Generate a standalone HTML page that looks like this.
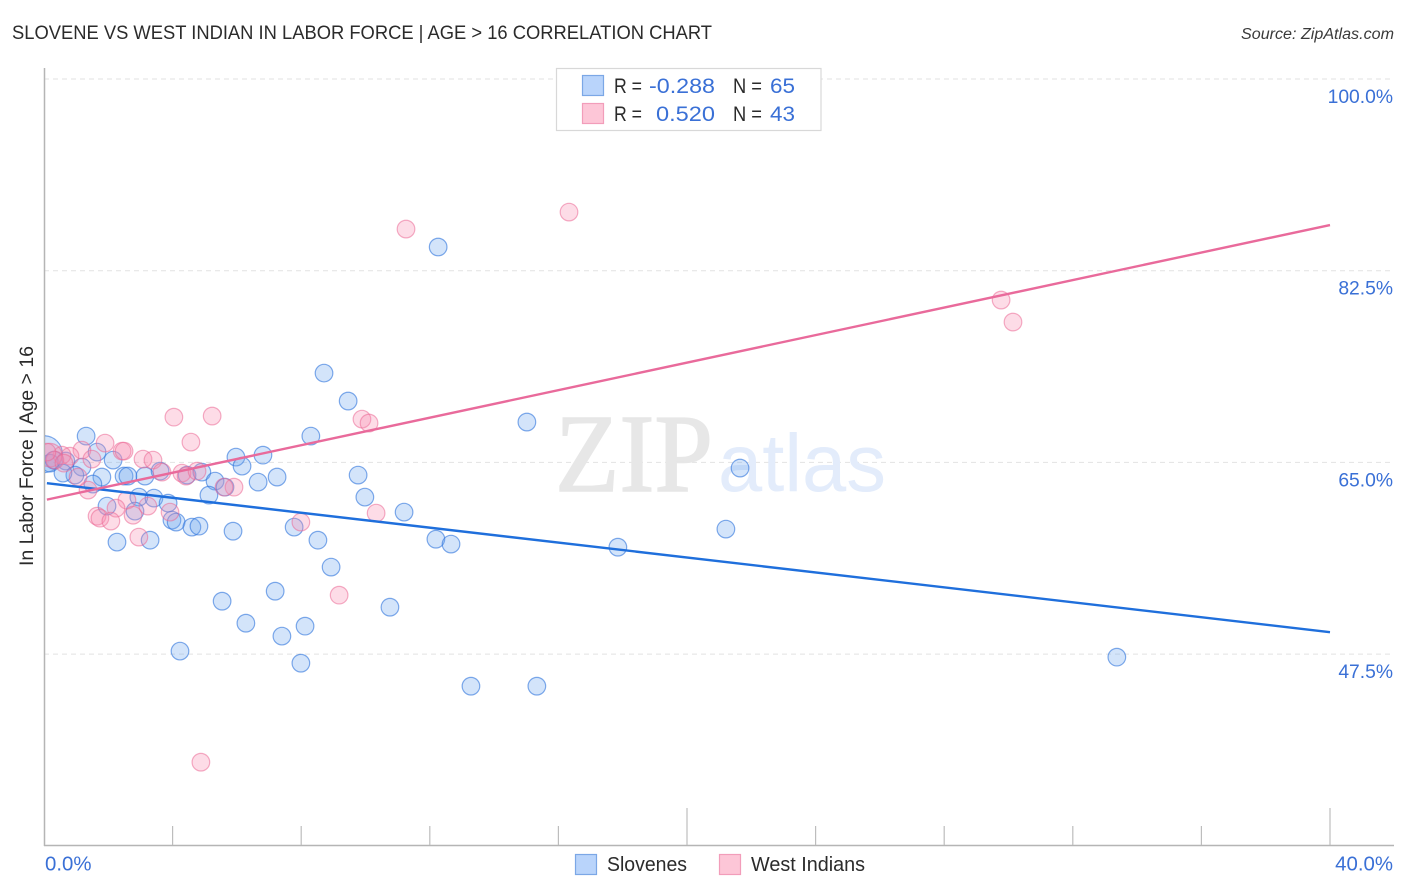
<!DOCTYPE html>
<html lang="en">
<head>
<meta charset="utf-8">
<title>Slovene vs West Indian in Labor Force | Age > 16 Correlation Chart</title>
<style>
html,body{margin:0;padding:0;background:#fff;}
svg{display:block;font-family:"Liberation Sans",sans-serif;}
</style>
</head>
<body>
<svg id="chart" xmlns="http://www.w3.org/2000/svg" width="1406" height="892" viewBox="0 0 1406 892">
  <defs><clipPath id="plot-clip"><rect x="45" y="60" width="1349" height="785"/></clipPath></defs>
  <rect x="0" y="0" width="1406" height="892" fill="#fff"/>
  <text x="12" y="39" font-size="19.5" fill="#2b2b2b" textLength="700" lengthAdjust="spacingAndGlyphs">SLOVENE VS WEST INDIAN IN LABOR FORCE | AGE &gt; 16 CORRELATION CHART</text>
  <text x="1394" y="39" font-size="15.5" font-style="italic" fill="#3a3a3a" text-anchor="end" textLength="153" lengthAdjust="spacingAndGlyphs">Source: ZipAtlas.com</text>
  <g id="grid"></g>
  <g>
    <text x="555" y="491" style="font-family:'Liberation Serif',serif" font-size="111" fill="#e7e7e7" stroke="#e7e7e7" stroke-width="1.5" textLength="158" lengthAdjust="spacingAndGlyphs">ZIP</text>
    <text x="718" y="491" style="font-family:'Liberation Sans',sans-serif" font-size="82" fill="#e3ecfb" textLength="168" lengthAdjust="spacingAndGlyphs">atlas</text>
  </g>
  <g id="axes"></g>
  <g id="points" clip-path="url(#plot-clip)"></g>
  <g id="trends"></g>
  <g id="tick-labels"></g>
  <text transform="translate(33,456) rotate(-90)" font-size="19.5" fill="#2b2b2b" text-anchor="middle" textLength="220" lengthAdjust="spacingAndGlyphs">In Labor Force | Age &gt; 16</text>

  <g>
    <rect x="556.5" y="68.5" width="264.5" height="62" fill="#fff" stroke="#d8d8d8" stroke-width="1.2"/>
    <rect x="582.5" y="75.5" width="21" height="20" fill="#b9d4fb" stroke="#7ba7e6" stroke-width="1.2"/>
    <rect x="582.5" y="103.5" width="21" height="20" fill="#fdc6d7" stroke="#f29dba" stroke-width="1.2"/>
    <g font-size="21">
      <text x="614" y="93" fill="#2b2b2b" textLength="28" lengthAdjust="spacingAndGlyphs">R =</text>
      <text x="649" y="93" fill="#3a70d6" textLength="66" lengthAdjust="spacingAndGlyphs">-0.288</text>
      <text x="733" y="93" fill="#2b2b2b" textLength="29" lengthAdjust="spacingAndGlyphs">N =</text>
      <text x="770" y="93" fill="#3a70d6" textLength="25" lengthAdjust="spacingAndGlyphs">65</text>
      <text x="614" y="121" fill="#2b2b2b" textLength="28" lengthAdjust="spacingAndGlyphs">R =</text>
      <text x="656" y="121" fill="#3a70d6" textLength="59" lengthAdjust="spacingAndGlyphs">0.520</text>
      <text x="733" y="121" fill="#2b2b2b" textLength="29" lengthAdjust="spacingAndGlyphs">N =</text>
      <text x="770" y="121" fill="#3a70d6" textLength="25" lengthAdjust="spacingAndGlyphs">43</text>
    </g>
  </g>

  <g>
    <rect x="575.5" y="854.5" width="21" height="20" fill="#b9d4fb" stroke="#7ba7e6" stroke-width="1.2"/>
    <text x="607" y="871" font-size="20" fill="#2b2b2b" textLength="80" lengthAdjust="spacingAndGlyphs">Slovenes</text>
    <rect x="719.5" y="854.5" width="21" height="20" fill="#fdc6d7" stroke="#f29dba" stroke-width="1.2"/>
    <text x="751" y="871" font-size="20" fill="#2b2b2b" textLength="114" lengthAdjust="spacingAndGlyphs">West Indians</text>
  </g>
</svg>
<script>
const sloveneX = [0.00,0.19,0.31,0.68,1.31,1.65,2.15,1.18,0.96,0.59,1.80,2.49,2.61,3.14,3.61,1.52,1.96,2.95,3.42,3.86,2.83,3.98,4.11,4.60,4.82,5.88,2.27,3.30,4.45,4.91,5.32,5.63,5.13,5.97,6.16,6.66,6.81,7.25,7.78,8.30,8.52,8.93,7.19,5.54,6.28,7.40,8.12,4.23,7.99,10.76,13.28,15.33,17.85,21.21,21.65,15.02,12.26,33.37,8.71,9.46,9.77,9.98,11.20,12.19,12.66];
const sloveneY = [65.75,64.93,65.21,65.12,67.40,65.94,65.21,64.57,63.84,64.02,63.66,63.75,63.75,63.75,64.20,63.02,61.01,61.83,61.74,61.28,60.55,59.73,59.55,59.09,59.18,58.72,57.72,57.90,63.84,64.11,63.29,62.74,62.01,65.48,64.66,63.20,65.66,63.66,59.09,67.40,57.90,55.44,53.24,52.33,50.32,49.14,50.05,47.77,46.67,51.78,44.57,44.57,57.26,58.91,64.48,68.68,84.66,47.22,73.15,70.60,63.84,61.83,60.46,57.99,57.54];
const sloveneWeight = [4.4,1,1,1,1,1,1,1,1,1,1,1,1,1,1,1,1,1,1,1,1,1,1,1,1,1,1,1,1,1,1,1,1,1,1,1,1,1,1,1,1,1,1,1,1,1,1,1,1,1,1,1,1,1,1,1,1,1,1,1,1,1,1,1,1];
const westIndianX = [16.33,11.26,29.77,30.14,4.04,5.23,4.57,9.89,10.11,1.90,1.18,2.43,2.49,3.08,3.39,1.49,0.81,0.56,0.19,0.34,4.29,4.42,4.76,3.67,1.37,1.06,5.91,5.60,2.58,2.24,1.65,1.74,2.08,2.77,3.23,3.92,2.95,7.99,10.33,9.18,4.88,0.09,0.62];
const westIndianY = [87.85,86.30,79.82,77.81,69.13,69.23,66.85,68.95,68.59,66.76,66.12,66.03,66.03,65.30,65.21,65.30,65.57,65.66,65.66,65.21,64.02,63.75,64.20,64.11,62.47,63.66,62.74,62.74,61.55,60.82,60.09,59.91,59.64,60.18,61.01,60.46,58.18,59.55,60.37,52.88,37.63,65.94,64.93];
const westIndianWeight = [1,1,1,1,1,1,1,1,1,1,1,1,1,1,1,1,1,1,1.8,1,1,1,1,1,1,1,1,1,1,1,1,1,1,1,1,1,1,1,1,1,1,1,1];
const trendX = [0.09,40.0];
const sloveneTrend = [63.10,49.50];
const westIndianTrend = [61.60,86.67];
const yTicks = [100,82.5,65,47.5];
const yTickLabels = ["100.0%","82.5%","65.0%","47.5%"];
const xTicks = [4,8,12,16,20,24,28,32,36,40];
const xMajorTicks = [20,40];
const xEndLabels = ["0.0%","40.0%"];
const xEndValues = [0,40];

const NS = 'http://www.w3.org/2000/svg';
function xs(v){ return 44 + v * 32.15; }
function ys(v){ return 79 + (100 - v) * 10.954; }
function mk(tag, attrs, parent){
  const el = document.createElementNS(NS, tag);
  for (const k in attrs) el.setAttribute(k, attrs[k]);
  parent.appendChild(el);
  return el;
}
const grid = document.getElementById('grid');
const axes = document.getElementById('axes');
const pts = document.getElementById('points');
const trends = document.getElementById('trends');
const labels = document.getElementById('tick-labels');

yTicks.forEach(function(t){
  const g = mk('line',{x1:44,x2:1394,y1:ys(t),y2:ys(t),stroke:'#e2e2e2','stroke-width':1,'stroke-dasharray':'5 4'},grid);
  
  
});

const yAxis = mk('line',{x1:44.5,x2:44.5,y1:68,y2:846,stroke:'#b5b5b5','stroke-width':1.5},axes);


const xAxis = mk('line',{x1:44,x2:1394,y1:845.5,y2:845.5,stroke:'#b5b5b5','stroke-width':1.5},axes);



xTicks.forEach(function(t){
  const top = xMajorTicks.indexOf(t) >= 0 ? 808 : 826;
  const l = mk('line',{x1:xs(t),x2:xs(t),y1:top,y2:845,stroke:'#bdbdbd','stroke-width':1.2},axes);
  
  
});

function drawSeries(xv, yv, wv, fill, stroke, name){
  xv.forEach(function(x, i){
    const c = mk('circle',{cx:xs(x),cy:ys(yv[i]),r:8.8*Math.sqrt(wv[i]),fill:fill,stroke:stroke,'stroke-width':1.2},pts);
    
    
  });
}
drawSeries(sloveneX, sloveneY, sloveneWeight, 'rgba(110,165,240,0.3)', 'rgba(45,115,220,0.6)', 'slovene-point');
drawSeries(westIndianX, westIndianY, westIndianWeight, 'rgba(247,140,175,0.3)', 'rgba(235,105,150,0.55)', 'west-indian-point');

const lineA = mk('line',{x1:xs(trendX[0]),x2:xs(trendX[1]),y1:ys(sloveneTrend[0]),y2:ys(sloveneTrend[1]),stroke:'#1f6fdc','stroke-width':2.4},trends);


const lineB = mk('line',{x1:xs(trendX[0]),x2:xs(trendX[1]),y1:ys(westIndianTrend[0]),y2:ys(westIndianTrend[1]),stroke:'#e96a9b','stroke-width':2.4},trends);



yTicks.forEach(function(t, i){
  const tx = mk('text',{x:1393,y:ys(t)+24,'font-size':19.3,fill:'#3a70d6','text-anchor':'end'},labels);
  tx.textContent = yTickLabels[i];
  
  
});
xEndValues.forEach(function(v, i){
  const tx = mk('text',{x:i === 0 ? 45 : 1393,y:870.5,'font-size':20.4,fill:'#3a70d6','text-anchor':i === 0 ? 'start' : 'end'},labels);
  tx.textContent = xEndLabels[i];
  
  
});
</script>
</body>
</html>
